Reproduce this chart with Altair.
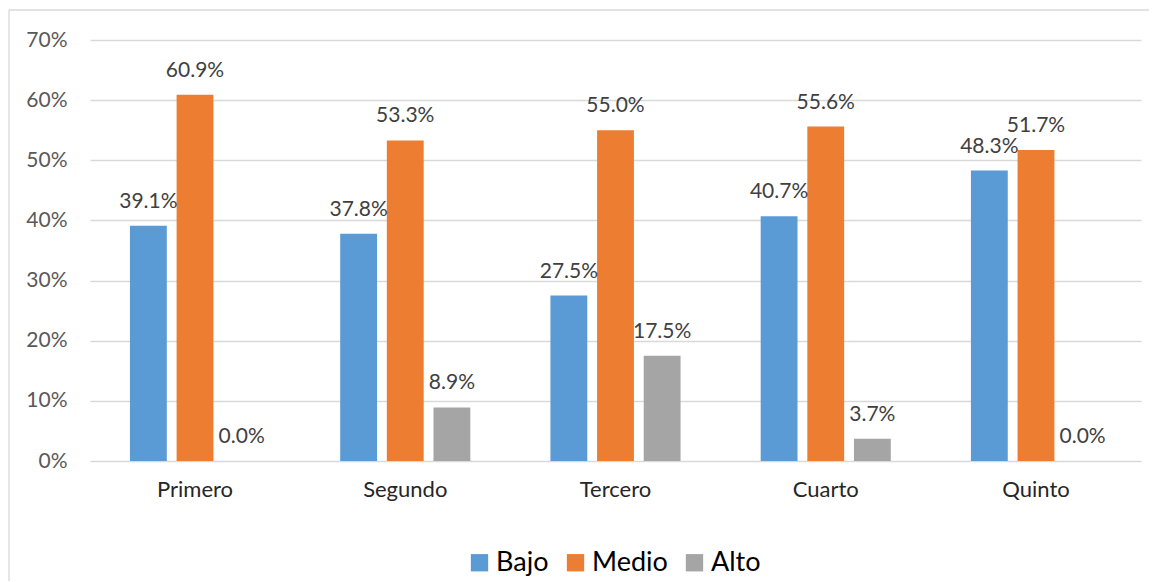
import altair as alt
import pandas as pd

categories = ["Primero", "Segundo", "Tercero", "Cuarto", "Quinto"]
series = ["Bajo", "Medio", "Alto"]
bajo = [0.391, 0.378, 0.275, 0.407, 0.483]
medio = [0.609, 0.533, 0.550, 0.556, 0.517]
alto = [0.000, 0.089, 0.175, 0.037, 0.000]
colors = ["#5B9BD5", "#ED7D31", "#A5A5A5"]

rows = []
for s, vals in zip(series, [bajo, medio, alto]):
    for c, v in zip(categories, vals):
        rows.append({"cat": c, "serie": s, "valor": v})
df = pd.DataFrame(rows)

FONT = "Lato"

x = alt.X("cat:N", sort=categories, title=None,
          scale=alt.Scale(paddingInner=0.381, paddingOuter=0.19),
          axis=alt.Axis(labelAngle=0, labelFontSize=22, labelColor="#262626",
                        labelFont=FONT, labelPadding=18, domain=False, ticks=False,
                        grid=False))
xo = alt.XOffset("serie:N", sort=series, scale=alt.Scale(paddingInner=0.21, paddingOuter=0))
y = alt.Y("valor:Q", title=None,
          scale=alt.Scale(domain=[0, 0.7], nice=False),
          axis=alt.Axis(format=".0%", values=[0, 0.1, 0.2, 0.3, 0.4, 0.5, 0.6, 0.7],
                        labelFontSize=21, labelColor="#595959", labelFont=FONT,
                        labelPadding=23, domain=False, ticks=False,
                        gridColor="#D9D9D9", gridWidth=1.3))
color = alt.Color("serie:N", sort=series,
                  scale=alt.Scale(domain=series, range=colors),
                  legend=alt.Legend(title=None, orient="none", direction="horizontal",
                                    legendX=376, legendY=509, symbolType="square",
                                    symbolSize=300, symbolStrokeWidth=0,
                                    labelFontSize=27, labelFont=FONT, labelColor="#000000",
                                    columnPadding=13, symbolOffset=0, padding=0,
                                    labelOffset=3))

bars = alt.Chart(df).mark_bar().encode(x=x, xOffset=xo, y=y, color=color)
labels = alt.Chart(df).mark_text(baseline="alphabetic", dy=-18, fontSize=21,
                                 font=FONT, color="#404040").encode(
    x=alt.X("cat:N", sort=categories),
    xOffset=alt.XOffset("serie:N", sort=series),
    y=alt.Y("valor:Q"), text=alt.Text("valor:Q", format=".1%"))

frame_left = alt.Chart(pd.DataFrame({"k": [0]})).mark_rule(color="#D9D9D9", strokeWidth=1.3).encode(
    x=alt.value(-81), y=alt.value(-30), y2=alt.value(600))
frame_top = alt.Chart(pd.DataFrame({"k": [0]})).mark_rule(color="#D9D9D9", strokeWidth=1.3).encode(
    x=alt.value(-81), x2=alt.value(1200), y=alt.value(-30))

chart = alt.layer(bars, labels, frame_left, frame_top).properties(
    width=1051, height=421,
    autosize=alt.AutoSizeParams(type="none"),
    padding={"left": 82, "top": 32, "right": 8, "bottom": 120},
    view=alt.ViewBackground(strokeWidth=0),
).configure_view(strokeWidth=0).configure_axis(domain=False).configure(background="white")

chart.save("out.html", embed_options={"renderer": "svg", "actions": False})
